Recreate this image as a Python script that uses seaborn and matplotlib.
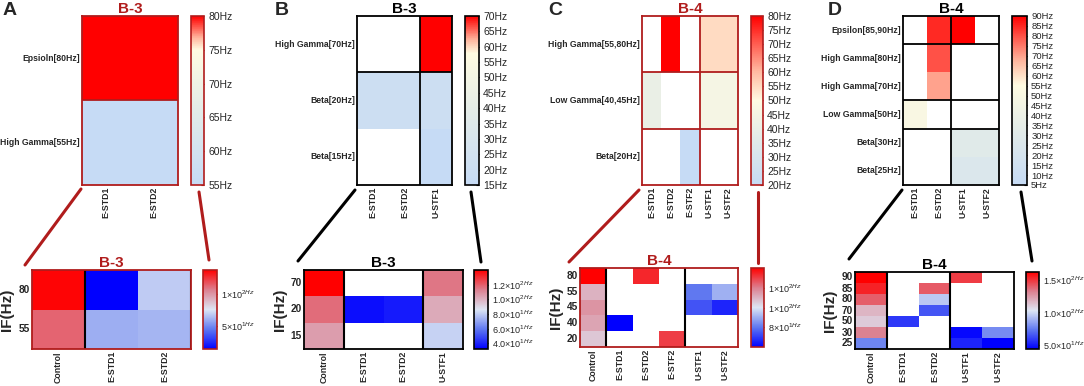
import numpy as np
import pandas as pd
import seaborn as sns
import matplotlib.pyplot as plt
from matplotlib.colors import LinearSegmentedColormap
from matplotlib.lines import Line2D

# ---- data ----
a_top_rows = ["Epsioln[80Hz]", "High Gamma[55Hz]"]
a_top_cols = ["E-STD1", "E-STD2"]
a_top_vals = [[80, 80], [55, 55]]
a_bot_rows = ["80", "55"]
a_bot_cols = ["Control", "E-STD1", "E-STD2"]
a_bot_vals = [[135, 15, 68], [112, 60, 62]]

b_top_rows = ["High Gamma[70Hz]", "Beta[20Hz]", "Beta[15Hz]"]
b_top_cols = ["E-STD1", "E-STD2", "U-STF1"]
b_top_vals = [[np.nan, np.nan, 70], [20, 20, 20], [np.nan, np.nan, 15]]
b_bot_rows = ["70", "20", "15"]
b_bot_cols = ["Control", "E-STD1", "E-STD2", "U-STF1"]
b_bot_vals = [[140, np.nan, np.nan, 115],
              [117, 35, 38, 102],
              [105, np.nan, np.nan, 81]]

c_top_rows = ["High Gamma[55,80Hz]", "Low Gamma[40,45Hz]", "Beta[20Hz]"]
c_top_cols = ["E-STD1", "E-STD2", "E-STF2", "U-STF1", "U-STF2"]
c_top_vals = [[np.nan, 80, np.nan, 55, 55],
              [40, np.nan, np.nan, 45, 45],
              [np.nan, np.nan, 20, np.nan, np.nan]]
c_bot_rows = ["80", "55", "45", "40", "20"]
c_bot_cols = ["Control", "E-STD1", "E-STD2", "E-STF2", "U-STF1", "U-STF2"]
c_bot_vals = [[140, np.nan, 134, np.nan, np.nan, np.nan],
              [110, np.nan, np.nan, np.nan, 80, 90],
              [116, np.nan, np.nan, np.nan, 74, 66],
              [113, 60, np.nan, np.nan, np.nan, np.nan],
              [106, np.nan, np.nan, 130, np.nan, np.nan]]

d_top_rows = ["Epsilon[85,90Hz]", "High Gamma[80Hz]", "High Gamma[70Hz]",
              "Low Gamma[50Hz]", "Beta[30Hz]", "Beta[25Hz]"]
d_top_cols = ["E-STD1", "E-STD2", "U-STF1", "U-STF2"]
d_top_vals = [[np.nan, 85, 90, np.nan],
              [np.nan, 80, np.nan, np.nan],
              [np.nan, 70, np.nan, np.nan],
              [50, np.nan, np.nan, np.nan],
              [np.nan, np.nan, 30, 30],
              [np.nan, np.nan, 25, 25]]
d_bot_rows = ["90", "85", "80", "70", "50", "30", "25"]
d_bot_cols = ["Control", "E-STD1", "E-STD2", "U-STF1", "U-STF2"]
d_bot_vals = [[162, np.nan, np.nan, 148, np.nan],
              [154, np.nan, 141, np.nan, np.nan],
              [140, np.nan, 95, np.nan, np.nan],
              [117, np.nan, 65, np.nan, np.nan],
              [111, 58, np.nan, np.nan, np.nan],
              [132, np.nan, np.nan, 46, 79],
              [77, np.nan, np.nan, 53, 44]]

a_cb_ticks = [100, 50]
a_cb_labels = ["1", "5"], ["2", "1"]
b_cb_ticks = [120, 100, 80, 60, 40]
b_cb_labels = ["1.2", "1.0", "8.0", "6.0", "4.0"], ["2", "2", "1", "1", "1"]
c_cb_ticks = [120, 100, 80]
c_cb_labels = ["1", "1", "8"], ["2", "2", "1"]
d_cb_ticks = [150, 100, 50]
d_cb_labels = ["1.5", "1.0", "5.0"], ["2", "2", "1"]

W, H = 1084, 386
DARKRED = "#b01c1c"

sns.set_theme(style="white")
plt.rcParams["font.family"] = ["Liberation Sans", "DejaVu Sans"]
plt.rcParams["mathtext.fontset"] = "custom"
plt.rcParams["mathtext.rm"] = "Liberation Sans"


def px(x0, y0, x1, y1):
    return [x0 / W, 1 - y1 / H, (x1 - x0) / W, (y1 - y0) / H]


def top_cmap(mid):
    return LinearSegmentedColormap.from_list("top", [
        (0, "#c6dbf5"), (mid * 0.55, "#e3ebe8"), (mid, "#fffbe2"),
        (mid + (1 - mid) * 0.35, "#ffb8a0"), (1, "#ff0000")])


bot_cmap = LinearSegmentedColormap.from_list("bot", [
    (0, "#0000ff"), (0.25, "#6078f0"), (0.5, "#dde6f4"),
    (0.75, "#dc8090"), (1, "#ff0000")])


def heat(ax, cax, vals, rows, cols, cmap, vmin, vmax, edge, ysize):
    df = pd.DataFrame(vals, index=rows, columns=cols, dtype=float)
    sns.heatmap(df, ax=ax, cbar_ax=cax, cmap=cmap, vmin=vmin, vmax=vmax,
                linewidths=0, xticklabels=True, yticklabels=True)
    for s in ax.spines.values():
        s.set_visible(True)
        s.set_color(edge)
        s.set_linewidth(1.3)
    ax.tick_params(length=0, pad=1.5)
    ax.set_xticklabels(cols, rotation=90, fontsize=6.3, fontweight="bold")
    ax.set_yticklabels(rows, rotation=0, fontsize=ysize, fontweight="bold")
    ax.set_xlabel("")
    ax.set_ylabel("")
    cb = ax.collections[0].colorbar
    cb.outline.set_edgecolor(edge)
    cb.outline.set_linewidth(1.2)
    cax.tick_params(length=2, width=0.8, color=edge, direction="in", pad=3)
    return cb


fig = plt.figure(figsize=(W / 100, H / 100), dpi=100)

panels = [
    dict(letter="A", lx=3, title="B-3", edge=DARKRED, tcol=DARKRED,
         top=(a_top_vals, a_top_rows, a_top_cols, 55, 80, 0.8, 5),
         bot=(a_bot_vals, a_bot_rows, a_bot_cols, 15, 136),
         ticks=a_cb_ticks, labels=a_cb_labels,
         thm=(82, 16, 178, 185), tcb=(191, 16, 204, 185),
         bhm=(32, 270, 191, 349), bcb=(203, 270, 217, 349),
         th=[1], tv=[], bv=[1, 3],
         lines=[((81, 189), (25, 265)), ((199, 192), (209, 260))]),
    dict(letter="B", lx=275, title="B-3", edge="black", tcol="black",
         top=(b_top_vals, b_top_rows, b_top_cols, 15, 70, 0.78, 5),
         bot=(b_bot_vals, b_bot_rows, b_bot_cols, 32, 140),
         ticks=b_cb_ticks, labels=b_cb_labels,
         thm=(357, 16, 452, 185), tcb=(465, 16, 479, 185),
         bhm=(304, 270, 463, 349), bcb=(474, 270, 488, 349),
         th=[1], tv=[2], bv=[1, 3],
         lines=[((355, 190), (298, 261)), ((471, 192), (481, 262))]),
    dict(letter="C", lx=548, title="B-4", edge=DARKRED, tcol=DARKRED,
         top=(c_top_vals, c_top_rows, c_top_cols, 20, 80, 0.5, 5),
         bot=(c_bot_vals, c_bot_rows, c_bot_cols, 60, 140),
         ticks=c_cb_ticks, labels=c_cb_labels,
         thm=(642, 16, 738, 185), tcb=(751, 16, 763, 185),
         bhm=(580, 268, 738, 347), bcb=(751, 268, 764, 347),
         th=[1, 2], tv=[3], bv=[1, 4],
         lines=[((639, 190), (569, 262)), ((758, 192), (758, 263))]),
    dict(letter="D", lx=828, title="B-4", edge="black", tcol="black",
         top=(d_top_vals, d_top_rows, d_top_cols, 5, 90, 0.59, 5),
         bot=(d_bot_vals, d_bot_rows, d_bot_cols, 44, 162),
         ticks=d_cb_ticks, labels=d_cb_labels,
         thm=(903, 16, 999, 185), tcb=(1012, 16, 1027, 185),
         bhm=(855, 272, 1014, 349), bcb=(1026, 272, 1039, 349),
         th=[1, 3, 4], tv=[2], bv=[1, 3],
         lines=[((902, 190), (849, 259)), ((1021, 192), (1032, 261))]),
]

for p in panels:
    # top heatmap (frequency bands)
    vals, rows, cols, lo, hi, mid, step = p["top"]
    ax = fig.add_axes(px(*p["thm"]))
    cax = fig.add_axes(px(*p["tcb"]))
    cb = heat(ax, cax, vals, rows, cols, top_cmap(mid), lo, hi, p["edge"], 6.2)
    tk = list(range(lo, hi + 1, step))
    cb.set_ticks(tk)
    cb.set_ticklabels([f"{t}Hz" for t in tk], fontsize=7.5 if len(tk) < 15 else 6.8)
    for h in p["th"]:
        ax.axhline(h, color=p["edge"], lw=1.3)
    for v in p["tv"]:
        ax.axvline(v, color=p["edge"], lw=1.3)
    ax.set_title(p["title"], color=p["tcol"], fontsize=11, fontweight="bold", pad=2)

    # bottom heatmap (IF)
    vals, rows, cols, lo, hi = p["bot"]
    ax = fig.add_axes(px(*p["bhm"]))
    cax = fig.add_axes(px(*p["bcb"]))
    cb = heat(ax, cax, vals, rows, cols, bot_cmap, lo, hi, p["edge"], 7.3)
    mant, expo = p["labels"]
    cb.set_ticks(p["ticks"])
    cb.set_ticklabels([rf"{m}$\times$10$^{{{e}Hz}}$" for m, e in zip(mant, expo)],
                      fontsize=6.5)
    for v in p["bv"]:
        ax.axvline(v, color="black", lw=1.5)
    ax.set_title(p["title"], color=p["tcol"], fontsize=11, fontweight="bold", pad=2)
    ax.set_ylabel("IF(Hz)", fontsize=11, fontweight="bold", labelpad=3)

    for (x0, y0), (x1, y1) in p["lines"]:
        fig.add_artist(Line2D([x0 / W, x1 / W], [1 - y0 / H, 1 - y1 / H],
                              transform=fig.transFigure, color=p["edge"], lw=2.2))
    fig.text(p["lx"] / W, 1 - 2 / H, p["letter"], fontsize=14, fontweight="bold", va="top")

fig.savefig("out.png", dpi=100)
